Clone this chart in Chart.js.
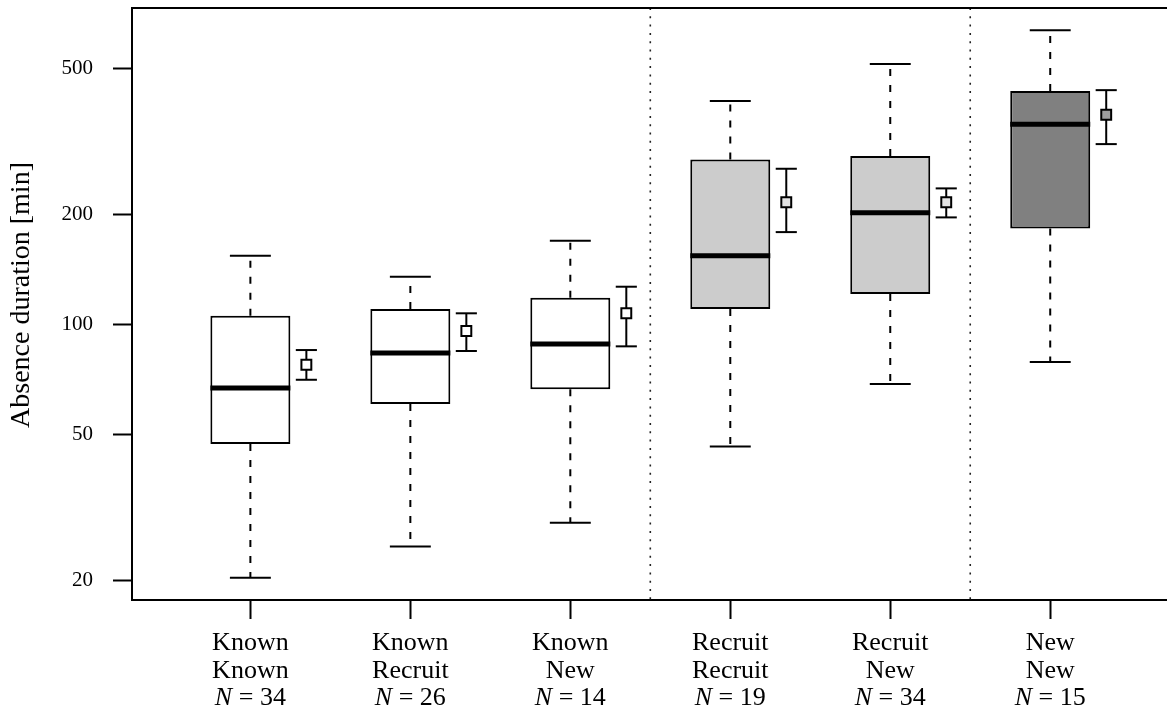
<!DOCTYPE html>
<html>
<head>
<meta charset="utf-8">
<script src="https://cdn.jsdelivr.net/npm/chart.js@4.4.1/dist/chart.umd.min.js"></script>
<style>
  html, body { margin: 0; padding: 0; background: #fff; }
  #wrap { width: 1167px; height: 713px; position: relative; }
</style>
</head>
<body>
<div id="wrap"><canvas id="boxChart"></canvas></div>
<script>
// --- data (minutes, log axis) ---
const groupTop = ['Known', 'Known', 'Known', 'Recruit', 'Recruit', 'New'];
const groupBottom = ['Known', 'Recruit', 'New', 'Recruit', 'New', 'New'];
const sampleN = [34, 26, 14, 19, 34, 15];

const whiskerLow = [20.3, 24.7, 28.7, 46.3, 68.6, 78.9];
const q1 = [47.1, 60.5, 66.4, 110, 120.9, 182.7];
const median = [66.9, 83.4, 88.3, 153.8, 201.6, 352];
const q3 = [105.4, 110.0, 118.1, 282, 288, 434];
const whiskerHigh = [153.8, 134.8, 169.0, 407, 513.6, 636];

const meanValue = [77.5, 95.8, 107.1, 215.3, 215.3, 373.5];
const meanLow = [70.5, 84.5, 87.0, 178.5, 195.8, 310.5];
const meanHigh = [85.0, 107.1, 126.6, 265.9, 235, 436];

const yTicks = [20, 50, 100, 200, 500];
const separators = [3.5, 5.5];

// styles
const boxFill = ['#ffffff', '#ffffff', '#ffffff', '#cccccc', '#cccccc', '#808080'];
const meanFill = ['#ffffff', '#ffffff', '#ffffff', '#e3e3e3', '#e3e3e3', '#9e9e9e'];
const FONT = '"Liberation Serif", "Times New Roman", serif';
const MEAN_OFFSET = 0.35;   // mean marker sits to the right of the box
const CAP_HALF = 0.128;     // whisker cap half width (x units)
const ERR_CAP_HALF = 0.066; // error bar cap half width

function line(ctx, x1, y1, x2, y2) {
    ctx.beginPath();
    ctx.moveTo(x1, y1);
    ctx.lineTo(x2, y2);
    ctx.stroke();
}

// --- extra boxplot parts, drawn through the chart scales ---
const boxPlotExtras = {
    id: 'boxPlotExtras',
    beforeDatasetsDraw(chart) {
        const { ctx, chartArea, scales: { x, y } } = chart;
        ctx.save();

        // dotted group separators
        ctx.strokeStyle = '#222';
        ctx.lineWidth = 1.6;
        ctx.setLineDash([2, 6.3]);
        separators.forEach(s => {
            const px = x.getPixelForValue(s);
            line(ctx, px, chartArea.top, px, chartArea.bottom);
        });

        ctx.strokeStyle = '#000';
        ctx.lineWidth = 2;
        groupTop.forEach((_, i) => {
            const cx = x.getPixelForValue(i + 1);
            // dashed whiskers
            ctx.setLineDash([7, 9]);
            line(ctx, cx, y.getPixelForValue(q3[i]), cx, y.getPixelForValue(whiskerHigh[i]));
            line(ctx, cx, y.getPixelForValue(q1[i]), cx, y.getPixelForValue(whiskerLow[i]));
            // caps
            ctx.setLineDash([]);
            const cl = x.getPixelForValue(i + 1 - CAP_HALF);
            const cr = x.getPixelForValue(i + 1 + CAP_HALF);
            [whiskerHigh[i], whiskerLow[i]].forEach(v => {
                const py = y.getPixelForValue(v);
                line(ctx, cl, py, cr, py);
            });
            // error bar around the mean
            const mx = x.getPixelForValue(i + 1 + MEAN_OFFSET);
            const el = x.getPixelForValue(i + 1 + MEAN_OFFSET - ERR_CAP_HALF);
            const er = x.getPixelForValue(i + 1 + MEAN_OFFSET + ERR_CAP_HALF);
            const yHi = y.getPixelForValue(meanHigh[i]);
            const yLo = y.getPixelForValue(meanLow[i]);
            line(ctx, mx, yHi, mx, yLo);
            line(ctx, el, yHi, er, yHi);
            line(ctx, el, yLo, er, yLo);
        });
        ctx.restore();
    },
    afterDatasetsDraw(chart) {
        const { ctx, chartArea, scales: { y } } = chart;
        ctx.save();
        // medians
        ctx.strokeStyle = '#000';
        ctx.lineWidth = 5;
        const boxMeta = chart.getDatasetMeta(0);
        boxMeta.data.forEach((bar, i) => {
            const half = bar.width / 2;
            const py = y.getPixelForValue(median[i]);
            line(ctx, bar.x - half, py, bar.x + half, py);
        });
        // top frame line
        ctx.lineWidth = 2;
        line(ctx, chartArea.left - 1, chartArea.top, chart.width, chartArea.top);
        ctx.restore();
    },
    afterDraw(chart) {
        const { ctx, chartArea, scales: { x } } = chart;
        ctx.save();
        ctx.fillStyle = '#000';
        ctx.textBaseline = 'alphabetic';
        const b = chartArea.bottom;
        const labelFont = '26px ' + FONT;
        const italicFont = 'italic 26px ' + FONT;
        groupTop.forEach((top, i) => {
            const cx = x.getPixelForValue(i + 1);
            ctx.font = labelFont;
            ctx.textAlign = 'center';
            ctx.fillText(top, cx, b + 50);
            ctx.fillText(groupBottom[i], cx, b + 77.5);
            // "N = xx" with italic N
            const rest = ' = ' + sampleN[i];
            ctx.font = italicFont;
            const wN = ctx.measureText('N').width;
            ctx.font = labelFont;
            const wR = ctx.measureText(rest).width;
            const start = cx - (wN + wR) / 2;
            ctx.textAlign = 'left';
            ctx.font = italicFont;
            ctx.fillText('N', start, b + 105);
            ctx.font = labelFont;
            ctx.fillText(rest, start + wN, b + 105);
        });
        // y axis title
        ctx.translate(22, 295);
        ctx.rotate(-Math.PI / 2);
        ctx.textAlign = 'center';
        ctx.textBaseline = 'middle';
        ctx.font = '28px ' + FONT;
        ctx.fillText('Absence duration [min]', 0, 0);
        ctx.restore();
    }
};

document.addEventListener('DOMContentLoaded', () => {
    const ctx = document.getElementById('boxChart').getContext('2d');

    new Chart(ctx, {
        type: 'bar',
        data: {
            datasets: [{
                type: 'bar',
                data: q1.map((lo, i) => ({ x: i + 1, y: [lo, q3[i]] })),
                backgroundColor: boxFill,
                borderColor: '#000',
                borderWidth: 2,
                borderSkipped: false,
                barPercentage: 0.5,
                categoryPercentage: 1,
                grouped: false
            }, {
                type: 'scatter',
                data: meanValue.map((v, i) => ({ x: i + 1 + MEAN_OFFSET, y: v })),
                pointStyle: 'rect',
                pointRadius: 7,
                pointBackgroundColor: meanFill,
                pointBorderColor: '#000',
                pointBorderWidth: 2
            }]
        },
        options: {
            responsive: true,
            maintainAspectRatio: false,
            animation: false,
            devicePixelRatio: 1,
            layout: { autoPadding: false, padding: { top: 8, right: 0, left: 0, bottom: 0 } },
            plugins: {
                legend: { display: false },
                tooltip: { enabled: false }
            },
            scales: {
                x: {
                    type: 'linear',
                    min: 0.26,
                    max: 6.73,
                    offset: false,
                    afterBuildTicks: s => { s.ticks = groupTop.map((_, i) => ({ value: i + 1 })); },
                    afterFit: s => {
                        s.height = 113;
                        s.paddingLeft = 0;
                        s.paddingRight = 0;
                    },
                    ticks: { display: false },
                    grid: { offset: false, drawOnChartArea: false, tickLength: 19, tickWidth: 2, tickColor: '#000' },
                    border: { display: true, color: '#000', width: 2 }
                },
                y: {
                    type: 'logarithmic',
                    min: 17.64,
                    max: 731,
                    afterBuildTicks: s => { s.ticks = yTicks.map(v => ({ value: v })); },
                    afterFit: s => {
                        s.width = 132;
                        s.paddingTop = 0;
                        s.paddingBottom = 0;
                    },
                    ticks: {
                        callback: v => String(v),
                        autoSkip: false,
                        padding: 20,
                        color: '#000',
                        font: { family: FONT, size: 21 }
                    },
                    grid: { drawOnChartArea: false, tickLength: 19, tickWidth: 2, tickColor: '#000' },
                    border: { display: true, color: '#000', width: 2 }
                }
            }
        },
        plugins: [boxPlotExtras]
    });
});
</script>
</body>
</html>
